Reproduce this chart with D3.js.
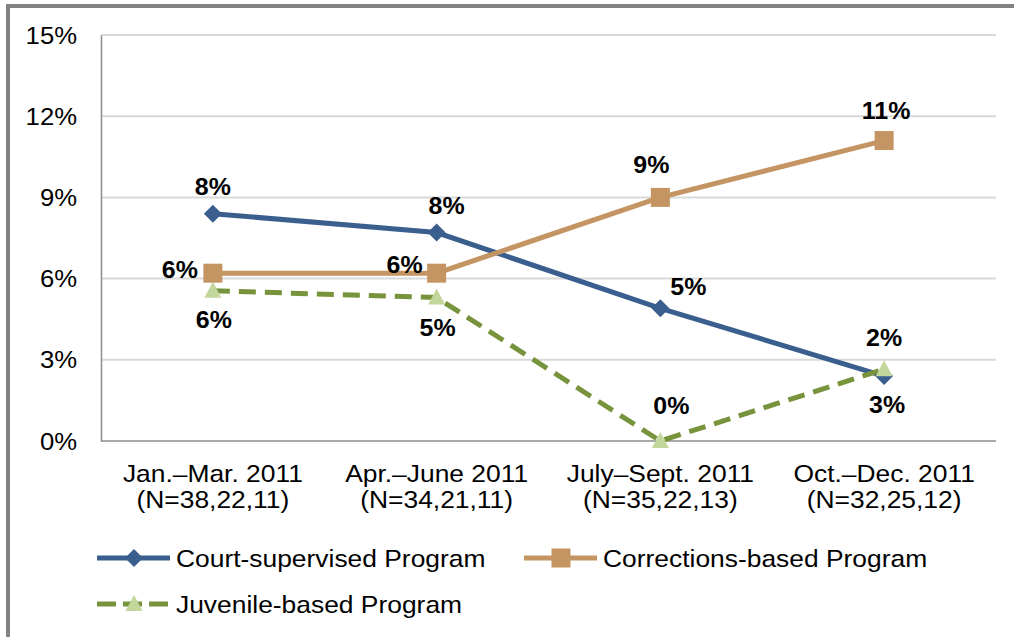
<!DOCTYPE html>
<html><head><meta charset="utf-8">
<script src="https://cdn.jsdelivr.net/npm/d3@7"></script>
<style>
html,body{margin:0;padding:0;background:#fff;}
svg{display:block;font-family:"Liberation Sans",Arial,sans-serif;}
</style></head>
<body>
<svg id="chart" width="1014" height="637"></svg>
<script>
const categoriesLine1 = ["Jan.\u2013Mar. 2011", "Apr.\u2013June 2011", "July\u2013Sept. 2011", "Oct.\u2013Dec. 2011"];
const categoriesLine2 = ["(N=38,22,11)", "(N=34,21,11)", "(N=35,22,13)", "(N=32,25,12)"];
const courtValues = [8.4, 7.7, 4.9, 2.4];
const correctionsValues = [6.2, 6.2, 9.0, 11.1];
const juvenileValues = [5.55, 5.3, 0, 2.65];
const courtLabels = ["8%", "8%", "5%", "3%"];
const correctionsLabels = ["6%", "6%", "9%", "11%"];
const juvenileLabels = ["6%", "5%", "0%", "2%"];
const yTicks = [0, 3, 6, 9, 12, 15];
const seriesNames = ["Court-supervised Program", "Corrections-based Program", "Juvenile-based Program"];

const svg = d3.select("#chart");
const L = 101, R = 996, T = 35, B = 441;
const FONT = "Liberation Sans, Arial, sans-serif";

function stretchText(parent, tx, ty, sx, txt, opts) {
  const g = parent.append("g").attr("transform", `translate(${tx},${ty}) scale(${sx},1)`);
  const t = g.append("text").attr("x", 0).attr("y", 0)
    .attr("font-family", FONT).attr("font-size", opts.size || 24)
    .attr("text-anchor", opts.anchor || "middle").attr("fill", "#000")
    .attr("dy", opts.dy || null)
    .attr("font-weight", opts.bold ? "bold" : null).text(txt);
  return t;
}

// outer frame (left + top)
svg.append("rect").attr("x", 6).attr("y", 4).attr("width", 1014).attr("height", 4).attr("fill", "#828282");
svg.append("rect").attr("x", 6).attr("y", 4).attr("width", 4).attr("height", 640).attr("fill", "#828282");

const x = d3.scalePoint().domain(d3.range(categoriesLine1.length)).range([L, R]).padding(0.5);
const y = d3.scaleLinear().domain([0, 15]).range([B, T]);

// gridlines
svg.append("g").selectAll("line").data(yTicks.filter(d => d > 0)).join("line")
  .attr("x1", L).attr("x2", R).attr("y1", d => y(d)).attr("y2", d => y(d))
  .attr("stroke", "#d9d9d9").attr("stroke-width", 2);

// y axis
const yAxis = svg.append("g").attr("transform", `translate(${L},0)`)
  .call(d3.axisLeft(y).tickValues(yTicks).tickSize(0).tickFormat(""));
yAxis.select(".domain").attr("stroke", "#8c8c8c").attr("stroke-width", 1.5);
const yLab = svg.append("g");
yTicks.forEach(d => stretchText(yLab, L - 24, y(d), 1.07, d + "%", {anchor: "end", dy: "0.36em"}));

// x axis
const xAxis = svg.append("g").attr("transform", `translate(0,${B})`)
  .call(d3.axisBottom(x).tickSize(0).tickFormat(""));
xAxis.select(".domain").attr("d", `M${L},0H${R}`).attr("stroke", "#8c8c8c").attr("stroke-width", 1.5);
const xLab = svg.append("g");
categoriesLine1.forEach((c, i) => {
  stretchText(xLab, x(i), B + 41, 1.1, c, {});
  stretchText(xLab, x(i), B + 67, 1.1, categoriesLine2[i], {});
});

const line = d3.line().x((d, i) => x(i)).y(d => y(d));

const series = [
  {name: seriesNames[0], values: courtValues, labels: courtLabels, color: "#3a5f8e", dash: null, marker: "diamond",
   off: [[0,-27],[10,-27],[28,-22],[3,28]]},
  {name: seriesNames[1], values: correctionsValues, labels: correctionsLabels, color: "#c49462", dash: null, marker: "square",
   off: [[-33,-4],[-32,-9],[-9,-33],[2,-30]]},
  {name: seriesNames[2], values: juvenileValues, labels: juvenileLabels, color: "#77933c", dash: "17,9", marker: "triangle",
   off: [[1,29],[1,30],[11,-36],[0,-32]]}
];

function drawMarker(g, type, cx, cy, color) {
  if (type === "diamond") {
    g.append("path").attr("d", `M${cx},${cy-9}L${cx+9},${cy}L${cx},${cy+9}L${cx-9},${cy}Z`).attr("fill", color);
  } else if (type === "square") {
    g.append("rect").attr("x", cx-9.5).attr("y", cy-9.5).attr("width", 19).attr("height", 19).attr("fill", color);
  } else {
    g.append("path").attr("d", `M${cx},${cy-9}L${cx+8.5},${cy+7}L${cx-8.5},${cy+7}Z`).attr("fill", "#c3d69b");
  }
}

series.forEach(s => {
  svg.append("path").datum(s.values).attr("d", line).attr("fill", "none")
    .attr("stroke", s.color).attr("stroke-width", 5).attr("stroke-dasharray", s.dash);
});
series.forEach(s => {
  const g = svg.append("g");
  s.values.forEach((v, i) => drawMarker(g, s.marker, x(i), y(v), s.color));
});
series.forEach(s => {
  const g = svg.append("g");
  s.values.forEach((v, i) => stretchText(g, x(i) + s.off[i][0], y(v) + s.off[i][1], 1.04, s.labels[i], {bold: true, dy: "0.36em"}));
});

// legend
const legendPos = [[97, 558], [524, 558], [97, 604]];
series.forEach((s, i) => {
  const [lx, ly] = legendPos[i];
  const g = svg.append("g");
  g.append("line").attr("x1", lx).attr("x2", lx + 73).attr("y1", ly).attr("y2", ly)
    .attr("stroke", s.color).attr("stroke-width", 5).attr("stroke-dasharray", s.dash ? "19,7" : null);
  drawMarker(g, s.marker, lx + 37, ly, s.color);
  stretchText(g, lx + 79, ly, 1.1, s.name, {anchor: "start", dy: "0.36em"});
});
</script>
</body></html>
